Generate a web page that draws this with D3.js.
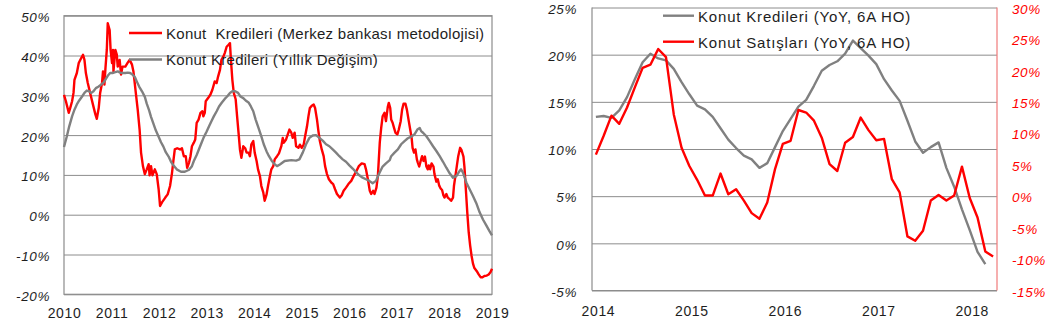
<!DOCTYPE html>
<html>
<head>
<meta charset="utf-8">
<script src="https://cdn.jsdelivr.net/npm/d3@7"></script>
<style>
  html, body { margin: 0; padding: 0; background: #fff; }
  svg { display: block; font-family: "Liberation Sans", Arial, sans-serif; }
  .ytick text { font-style: italic; }
  text { white-space: pre; }
</style>
</head>
<body>
<svg id="chart" width="1051" height="326"></svg>
<script>
// ---------- Left panel: housing loan growth, weekly-ish readings (decimal year, %) ----------
const cbDates = [2010.00,2010.04,2010.10,2010.13,2010.17,2010.20,2010.22,2010.27,2010.31,2010.36,2010.40,2010.43,2010.46,2010.50,2010.55,2010.60,2010.66,2010.69,2010.73,2010.76,2010.80,2010.82,2010.85,2010.87,2010.90,2010.92,2010.96,2010.98,2011.01,2011.03,2011.04,2011.08,2011.11,2011.13,2011.17,2011.20,2011.23,2011.29,2011.34,2011.38,2011.43,2011.46,2011.51,2011.55,2011.59,2011.62,2011.66,2011.70,2011.74,2011.78,2011.80,2011.83,2011.86,2011.91,2011.95,2011.99,2012.02,2012.06,2012.13,2012.18,2012.23,2012.27,2012.30,2012.33,2012.38,2012.44,2012.48,2012.52,2012.56,2012.59,2012.63,2012.66,2012.69,2012.73,2012.76,2012.79,2012.83,2012.87,2012.91,2012.93,2012.96,2012.98,2013.03,2013.08,2013.12,2013.17,2013.21,2013.24,2013.28,2013.31,2013.35,2013.38,2013.42,2013.46,2013.49,2013.51,2013.54,2013.57,2013.61,2013.64,2013.67,2013.70,2013.73,2013.77,2013.81,2013.84,2013.88,2013.91,2013.94,2013.98,2014.01,2014.05,2014.08,2014.12,2014.15,2014.19,2014.22,2014.26,2014.29,2014.33,2014.36,2014.40,2014.43,2014.48,2014.52,2014.57,2014.60,2014.62,2014.67,2014.74,2014.78,2014.81,2014.85,2014.88,2014.93,2014.96,2015.00,2015.04,2015.07,2015.11,2015.14,2015.17,2015.21,2015.25,2015.28,2015.32,2015.35,2015.38,2015.42,2015.46,2015.49,2015.53,2015.57,2015.62,2015.66,2015.70,2015.74,2015.80,2015.84,2015.88,2015.93,2015.98,2016.04,2016.09,2016.15,2016.20,2016.26,2016.32,2016.35,2016.39,2016.43,2016.46,2016.50,2016.53,2016.57,2016.60,2016.62,2016.64,2016.67,2016.70,2016.74,2016.77,2016.81,2016.83,2016.86,2016.88,2016.91,2016.94,2016.97,2017.01,2017.04,2017.08,2017.11,2017.14,2017.18,2017.21,2017.25,2017.28,2017.31,2017.33,2017.36,2017.39,2017.42,2017.44,2017.47,2017.50,2017.53,2017.56,2017.59,2017.62,2017.65,2017.67,2017.70,2017.73,2017.77,2017.79,2017.83,2017.86,2017.89,2017.92,2017.95,2017.98,2018.00,2018.04,2018.07,2018.11,2018.14,2018.18,2018.20,2018.23,2018.26,2018.29,2018.33,2018.36,2018.40,2018.42,2018.45,2018.48,2018.51,2018.54,2018.57,2018.60,2018.63,2018.68,2018.72,2018.76,2018.80,2018.84,2018.89,2018.93,2018.97,2019.00];
const cbValues = [30.1,28.5,25.6,26.8,28.5,30.6,33.9,35.6,38.1,39.3,40.2,38.9,35.6,33.1,30.6,28.1,25.2,24.1,26.8,30.6,33.1,36.0,32.7,36.5,41.4,48.1,46.4,41.4,38.1,41.4,36.0,41.4,40.2,37.2,38.9,35.2,37.2,37.2,38.2,38.9,37.7,36.0,30.6,26.4,21.4,15.6,12.2,10.2,11.4,12.7,9.9,12.2,9.9,11.4,10.2,6.4,2.2,3.1,4.3,5.1,7.2,10.4,13.5,16.4,16.7,16.4,16.7,14.7,14.7,11.8,13.1,14.7,17.2,18.1,18.9,23.1,23.9,25.6,26.0,24.7,25.6,28.5,29.3,30.2,31.4,33.5,33.1,34.7,36.4,38.9,39.7,40.6,42.2,42.7,43.1,38.9,33.9,30.6,29.0,24.7,20.6,16.4,14.3,17.2,16.7,15.6,15.6,14.7,17.7,18.5,15.6,13.5,11.4,9.7,7.2,5.6,3.5,5.1,7.2,9.7,11.4,12.2,13.9,14.7,15.4,17.2,19.3,18.1,18.9,21.4,20.6,19.3,20.6,17.2,16.8,17.6,16.8,17.6,19.7,22.2,24.7,26.8,27.4,27.7,26.8,23.9,21.0,18.5,16.4,14.7,12.2,10.2,8.9,8.1,7.7,6.4,5.2,4.3,4.9,6.0,6.8,7.7,8.5,9.7,11.0,12.2,12.9,12.7,11.4,8.9,6.0,5.2,6.0,5.2,6.8,9.7,13.9,18.1,21.8,24.7,25.6,23.5,27.2,28.1,26.8,23.9,23.1,21.8,20.6,20.2,21.4,23.5,26.4,27.9,27.9,26.4,23.5,21.4,19.3,16.8,15.6,16.4,13.9,13.1,12.1,13.5,14.7,13.5,14.6,12.1,11.4,12.4,11.4,12.9,12.1,10.2,8.3,8.9,7.3,6.6,6.2,4.8,4.3,5.2,4.3,3.9,3.5,4.3,7.2,9.7,12.2,14.7,16.8,16.2,14.6,12.1,6.4,0.6,-4.4,-7.7,-10.3,-12.3,-13.4,-14.2,-15.0,-15.7,-15.7,-15.4,-15.3,-15.0,-14.4,-13.6];

const annDates = [2010.00,2010.06,2010.11,2010.17,2010.22,2010.27,2010.32,2010.38,2010.43,2010.48,2010.53,2010.57,2010.62,2010.67,2010.73,2010.78,2010.83,2010.88,2010.92,2010.97,2011.02,2011.08,2011.13,2011.18,2011.23,2011.29,2011.34,2011.39,2011.44,2011.49,2011.53,2011.58,2011.64,2011.70,2011.74,2011.79,2011.83,2011.88,2011.93,2011.99,2012.04,2012.09,2012.14,2012.20,2012.25,2012.30,2012.37,2012.46,2012.54,2012.63,2012.69,2012.73,2012.79,2012.84,2012.89,2012.94,2013.00,2013.05,2013.10,2013.15,2013.21,2013.26,2013.32,2013.38,2013.43,2013.49,2013.54,2013.60,2013.66,2013.71,2013.77,2013.82,2013.88,2013.93,2013.98,2014.03,2014.09,2014.15,2014.20,2014.26,2014.31,2014.37,2014.43,2014.48,2014.54,2014.64,2014.78,2014.88,2014.95,2015.02,2015.09,2015.16,2015.23,2015.30,2015.37,2015.44,2015.51,2015.58,2015.65,2015.72,2015.79,2015.86,2015.93,2016.00,2016.07,2016.14,2016.21,2016.28,2016.35,2016.42,2016.49,2016.56,2016.63,2016.70,2016.77,2016.85,2016.88,2016.95,2017.02,2017.09,2017.16,2017.23,2017.30,2017.37,2017.43,2017.48,2017.51,2017.55,2017.62,2017.69,2017.76,2017.83,2017.90,2017.97,2018.04,2018.11,2018.18,2018.25,2018.32,2018.35,2018.39,2018.46,2018.53,2018.60,2018.67,2018.74,2018.81,2018.88,2018.95,2019.00];
const annValues = [17.0,19.7,22.2,24.7,26.4,27.7,28.7,29.7,30.6,31.2,31.0,30.6,31.0,31.8,32.2,32.7,33.2,34.1,34.9,35.6,35.6,35.8,36.0,35.7,35.6,35.6,35.7,35.6,35.2,34.6,33.5,32.2,31.0,29.6,27.9,26.2,24.6,22.9,21.2,19.6,18.2,17.1,15.7,14.6,13.3,12.4,11.4,10.8,10.8,11.3,12.2,13.5,15.0,16.5,18.0,19.5,20.9,22.2,23.5,24.7,26.0,27.2,28.2,29.1,29.7,30.6,31.0,31.0,30.6,29.7,29.3,28.7,28.2,27.2,26.0,23.9,21.8,19.7,17.7,15.9,14.7,13.5,12.7,12.2,12.6,13.5,13.7,13.6,13.9,15.6,17.7,19.3,19.9,20.0,19.3,18.6,17.7,17.2,16.4,15.6,14.7,13.9,13.3,12.4,11.6,10.7,9.9,9.3,8.9,8.5,7.9,8.5,10.4,12.1,12.9,13.7,14.7,15.6,16.4,17.7,18.5,19.2,19.6,20.2,21.4,21.8,21.0,20.6,19.7,18.5,17.2,16.0,14.7,13.3,11.8,10.4,9.3,9.7,11.0,11.4,10.6,8.1,6.4,4.7,2.9,0.6,-1.2,-2.7,-4.2,-5.2];

const leftYTicks = [-20,-10,0,10,20,30,40,50];
const leftYears = [2010,2011,2012,2013,2014,2015,2016,2017,2018,2019];
const leftLegend = ["Konut  Kredileri (Merkez bankası metodolojisi)", "Konut Kredileri (Yıllık Değişim)"];

// ---------- Right panel: monthly, 6-month moving average YoY ----------
const monthStart = new Date(2014, 0, 1);
const monthCount = 52;
const loansYoY = [13.4,13.5,13.3,14.1,15.5,17.4,19.2,20.1,19.6,19.4,18.5,17.1,15.8,14.6,14.2,13.4,12.2,11.0,10.1,9.3,8.9,8.0,8.5,10.2,11.9,13.2,14.5,15.2,16.7,18.3,18.9,19.3,20.1,21.5,20.7,19.9,19.0,17.4,16.2,15.1,13.0,10.8,9.6,10.2,10.7,8.0,6.0,3.6,1.4,-0.9,-2.2];
const salesYoY = [6.6,9.6,12.8,11.5,14.1,17.3,20.4,20.9,23.4,22.1,13.0,7.7,4.8,2.6,0.1,0.1,3.6,0.3,1.1,-0.7,-2.7,-3.6,-1.0,4.3,8.3,8.8,13.7,13.3,12.0,9.3,5.1,4.0,8.5,9.4,12.5,10.5,8.9,9.1,2.7,0.6,-6.4,-7.1,-5.5,-0.7,0.2,-0.7,0.1,4.7,-0.3,-3.4,-8.8,-9.6];
const rightYTicks = [-5,0,5,10,15,20,25];
const rightY2Ticks = [-15,-10,-5,0,5,10,15,20,25,30];
const rightYears = [2014,2015,2016,2017,2018];
const rightLegend = ["Konut Kredileri (YoY, 6A HO)", "Konut Satışları (YoY, 6A HO)"];

const RED = "#ff0000", GREY = "#808080", GRID = "#8c8c8c", TXT = "#1e1e1e";
const svg = d3.select("#chart");
const pct = v => `${v}%`;

// ================= Left panel =================
const L = { left: 64, right: 492, top: 15.7, bottom: 294.3 };
const xL = d3.scaleLinear().domain([2010, 2019]).range([L.left, L.right]);
const yL = d3.scaleLinear().domain([-20, 50]).range([L.bottom, L.top]);
const gL = svg.append("g");

// horizontal grid
gL.append("g")
  .attr("transform", `translate(${L.left},0)`)
  .call(d3.axisLeft(yL).tickValues(leftYTicks).tickSize(-(L.right - L.left)).tickFormat(""))
  .call(g => g.select(".domain").remove())
  .call(g => g.selectAll("line").attr("stroke", GRID).attr("stroke-width", 1));
// frame
gL.append("rect").attr("x", L.left).attr("y", L.top)
  .attr("width", L.right - L.left).attr("height", L.bottom - L.top)
  .attr("fill", "none").attr("stroke", GRID).attr("stroke-width", 1.2);

// y labels
gL.append("g").attr("class", "ytick")
  .attr("transform", `translate(${L.left},0)`)
  .call(d3.axisLeft(yL).tickValues(leftYTicks).tickSize(0).tickPadding(14).tickFormat(pct))
  .call(g => g.select(".domain").remove())
  .call(g => g.selectAll("text").attr("fill", TXT).attr("font-size", 13.5)
    .attr("letter-spacing", 0.6).attr("dy", "0.45em").attr("font-family", null));

// x labels
gL.append("g")
  .attr("transform", `translate(0,${L.bottom})`)
  .call(d3.axisBottom(xL).tickValues(leftYears).tickSize(0).tickPadding(13.5).tickFormat(d3.format("d")))
  .call(g => g.select(".domain").remove())
  .call(g => g.selectAll("text").attr("fill", TXT).attr("font-size", 14)
    .attr("letter-spacing", 0.6).attr("font-family", null));

const lineL = d3.line().x(d => xL(d[0])).y(d => yL(d[1]));
const cbSeries = cbDates.map((t, i) => [t, cbValues[i]]);
const annSeries = annDates.map((t, i) => [t, annValues[i]]);

gL.append("path").datum(cbSeries).attr("d", lineL)
  .attr("fill", "none").attr("stroke", RED).attr("stroke-width", 2.4).attr("stroke-linejoin", "round");
gL.append("path").datum(annSeries).attr("d", lineL)
  .attr("fill", "none").attr("stroke", GREY).attr("stroke-width", 2.4).attr("stroke-linejoin", "round");

// legend
const legL = gL.append("g");
[[RED, 33, 38.5], [GREY, 59.5, 65]].forEach(([c, ly, ty], i) => {
  legL.append("line").attr("x1", 129).attr("x2", 162).attr("y1", ly).attr("y2", ly)
    .attr("stroke", c).attr("stroke-width", 2.4);
  legL.append("text").attr("x", 166).attr("y", ty).attr("font-size", 15)
    .attr("letter-spacing", 0.27).attr("fill", TXT).text(leftLegend[i]);
});

// ================= Right panel =================
const R = { left: 592, right: 997, top: 7.5, bottom: 290.5 };
const months = d3.range(monthCount).map(i => d3.timeMonth.offset(monthStart, i));
const xR = d3.scaleBand().domain(d3.range(monthCount)).range([R.left, R.right]);
const xc = i => xR(i) + xR.bandwidth() / 2;
const yR = d3.scaleLinear().domain([-5, 25]).range([R.bottom, R.top]);
const yR2 = d3.scaleLinear().domain([-15, 30]).range([R.bottom, R.top]);
const gR = svg.append("g");

gR.append("g")
  .attr("transform", `translate(${R.left},0)`)
  .call(d3.axisLeft(yR).tickValues(rightYTicks).tickSize(-(R.right - R.left)).tickFormat(""))
  .call(g => g.select(".domain").remove())
  .call(g => g.selectAll("line").attr("stroke", GRID).attr("stroke-width", 1));
// left and bottom axis lines
gR.append("line").attr("x1", R.left).attr("x2", R.left).attr("y1", R.top).attr("y2", R.bottom)
  .attr("stroke", GRID).attr("stroke-width", 1.2);
gR.append("line").attr("x1", R.left).attr("x2", R.right).attr("y1", R.bottom).attr("y2", R.bottom)
  .attr("stroke", GRID).attr("stroke-width", 1.2);
// secondary axis line
gR.append("line").attr("x1", R.right).attr("x2", R.right).attr("y1", R.top).attr("y2", R.bottom)
  .attr("stroke", "#f07a7a").attr("stroke-width", 1.2);

gR.append("g").attr("class", "ytick")
  .attr("transform", `translate(${R.left},0)`)
  .call(d3.axisLeft(yR).tickValues(rightYTicks).tickSize(0).tickPadding(15).tickFormat(pct))
  .call(g => g.select(".domain").remove())
  .call(g => g.selectAll("text").attr("fill", TXT).attr("font-size", 13.5)
    .attr("letter-spacing", 0.6).attr("dy", "0.42em").attr("font-family", null));

gR.append("g").attr("class", "ytick")
  .attr("transform", `translate(${R.right},0)`)
  .call(d3.axisRight(yR2).tickValues(rightY2Ticks).tickSize(0).tickPadding(15).tickFormat(pct))
  .call(g => g.select(".domain").remove())
  .call(g => g.selectAll("text").attr("fill", RED).attr("font-size", 13.5)
    .attr("letter-spacing", 0.6).attr("dy", "0.42em").attr("font-family", null));

// year labels at each January
const janIdx = rightYears.map(y => months.findIndex(m => m.getFullYear() === y && m.getMonth() === 0));
const xYear = d3.scaleOrdinal().domain(rightYears).range(janIdx.map(i => xc(i) + 2.5));
const gx = gR.append("g").attr("transform", `translate(0,${R.bottom})`);
gx.selectAll("text").data(rightYears).join("text")
  .attr("x", d => xYear(d)).attr("y", 25.5)
  .attr("text-anchor", "middle").attr("font-size", 14).attr("letter-spacing", 0.6)
  .attr("fill", TXT).text(d => d);

gR.append("path").datum(loansYoY)
  .attr("d", d3.line().x((d, i) => xc(i)).y(d => yR(d)))
  .attr("fill", "none").attr("stroke", GREY).attr("stroke-width", 2.4).attr("stroke-linejoin", "round");
gR.append("path").datum(salesYoY)
  .attr("d", d3.line().x((d, i) => xc(i)).y(d => yR2(d)))
  .attr("fill", "none").attr("stroke", RED).attr("stroke-width", 2.4).attr("stroke-linejoin", "round");

const legR = gR.append("g");
[[GREY, 15.7, 22.3], [RED, 41.7, 48.3]].forEach(([c, ly, ty], i) => {
  legR.append("line").attr("x1", 663).attr("x2", 694).attr("y1", ly).attr("y2", ly)
    .attr("stroke", c).attr("stroke-width", 2.4);
  legR.append("text").attr("x", 698).attr("y", ty).attr("font-size", 15)
    .attr("letter-spacing", 0.82).attr("fill", TXT).text(rightLegend[i]);
});
</script>
</body>
</html>
